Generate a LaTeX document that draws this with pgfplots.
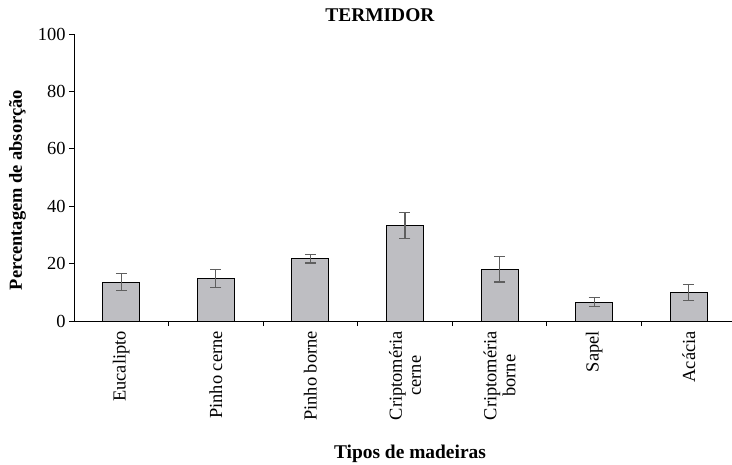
\documentclass[border=0pt]{standalone}
\usepackage{fontspec}
\setmainfont{Liberation Serif}
\usepackage{pgfplots}
\pgfplotsset{compat=1.18}
\definecolor{barfill}{RGB}{190,190,194}
\definecolor{errc}{RGB}{95,95,95}
\begin{document}
\begin{tikzpicture}
\begin{axis}[
  name=ax,
  scale only axis,
  width=662bp, height=287bp,
  xmin=-0.5, xmax=6.5, ymin=0, ymax=100,
  axis lines=left,
  axis line style={-, line width=0.8pt},
  ytick={0,20,40,60,80,100},
  xtick={0,1,2,3,4,5,6},
  xticklabels={Eucalipto,Pinho cerne,Pinho borne,{Criptoméria\\cerne},{Criptoméria\\borne},Sapel,Acácia},
  minor xtick={0.5,1.5,2.5,3.5,4.5,5.5},
  tick align=outside,
  major tick length=5bp,
  minor tick length=5bp,
  major x tick style={draw=none},
  tick style={black, line width=0.8pt},
  xticklabel style={rotate=90, anchor=east, align=center, font=\fontsize{18.5}{19}\selectfont, inner sep=0pt, xshift=-5bp},
  yticklabel style={font=\fontsize{18.5}{19}\selectfont},
  /pgf/number format/assume math mode=true,
  title={\textbf{TERMIDOR}},
  title style={font=\fontsize{19.5}{20}\selectfont, at={(axis description cs:0.5,1)}, anchor=base, yshift=7bp, xshift=-25bp},
  ylabel={\textbf{Percentagem de absorção}},
  ylabel style={font=\fontsize{18.5}{19}\selectfont, at={(axis description cs:0,0.5)}, anchor=base, xshift=-12.5bp, yshift=52bp},
  xlabel={\textbf{Tipos de madeiras}},
  xlabel style={font=\fontsize{19.5}{20}\selectfont, at={(axis description cs:0.5,0)}, anchor=base, yshift=-137bp, xshift=5bp},
  ybar, bar width=37bp,
]
\addplot[fill=barfill, draw=black, line width=1pt,
  error bars/.cd, y dir=both, y explicit,
  error bar style={color=errc, line width=1.1pt},
  error mark options={rotate=90, mark size=5.5bp, line width=1.1pt, color=errc}]
  table[x=x, y=y, y error=e] {
x y e
0 13.5 3.0
1 14.9 3.1
2 21.7 1.5
3 33.2 4.5
4 18.1 4.5
5 6.6 1.5
6 9.8 2.8
};
\coordinate (BL) at (rel axis cs:0,0);
\end{axis}
\pgfresetboundingbox
\path ([xshift=-74bp,yshift=-144bp]BL) rectangle ([xshift=658bp,yshift=321bp]BL);
\end{tikzpicture}
\end{document}
